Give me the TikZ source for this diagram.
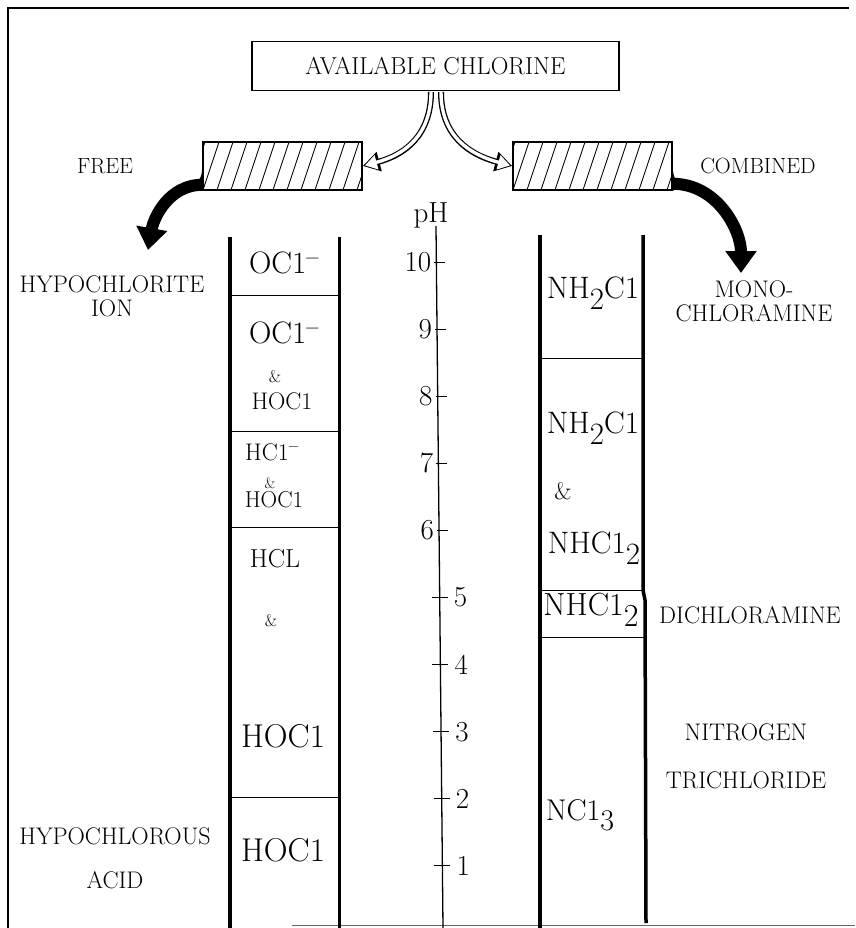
\documentclass[tikz,border=0pt]{standalone}
\usepackage{fontspec}
\usepackage{tikz}
\usetikzlibrary{arrows.meta,positioning}
\newcommand{\lowdig}[1]{\raisebox{-0.34em}{#1}}
\newcommand{\negsign}{\textsuperscript{\textbf{--}}}
\tikzset{
  chbox/.style={draw, line width=1.4pt, minimum width=367pt, minimum height=49pt,
    inner sep=0pt, font=\fontsize{24.5}{28}\selectfont},
  hatchbox/.style={draw, line width=1.6pt, minimum width=159pt, minimum height=48pt, inner sep=0pt,
    path picture={\foreach \k in {-2,...,11}
      \draw[line width=0.9pt] ([xshift=\k*14pt]path picture bounding box.south west) -- ++(16pt,48pt);}},
  sidelbl/.style={align=center, inner sep=0pt, font=\fontsize{24}{25}\selectfont},
  bigform/.style={inner sep=0pt, font=\fontsize{31}{33}\selectfont},
  midform/.style={inner sep=0pt, font=\fontsize{24}{26}\selectfont},
  rform/.style={inner sep=0pt, font=\fontsize{31}{33}\selectfont},
  ampsign/.style={inner sep=0pt, font=\fontsize{17}{20}\selectfont},
  phnum/.style={inner sep=0pt, font=\fontsize{29}{31}\selectfont},
  tubeout/.style={line width=6pt, -{Triangle[length=17pt,width=19pt]}},
  tubein/.style={line width=3.4pt, white, shorten >=2.2pt, -{Triangle[length=12pt,width=14pt]}},
  fatarrow/.style={line width=12pt, -{Triangle[length=22pt,width=30pt]}},
  colwall/.style={line width=3.5pt},
  rowline/.style={line width=0.9pt}
}

\begin{document}
\begin{tikzpicture}[x=1pt,y=-1pt]
  \useasboundingbox (0,0) rectangle (855,928);
  % frame
  \draw[line width=1.5pt] (8,928) -- (8,8) -- (849,8);
  \draw[line width=0.8pt, black!60] (292,925) -- (855,925);

  % top part
  \node[chbox] (avail) at (435.5,66) {\raisebox{-5pt}{AVAILABLE CHLORINE}};
  \node[hatchbox] (free) at (282.5,166) {};
  \node[hatchbox] (comb) at (592.5,166) {};
  \node[sidelbl, font=\fontsize{22}{24}\selectfont] (freelbl) at (105,166) {FREE};
  \node[sidelbl, font=\fontsize{22}{24}\selectfont] (comblbl) at (758,166) {COMBINED};

  \draw[tubeout] ([shift={(-4.5pt,-0.8pt)}]avail.south) to[out=270,in=15,looseness=1.1] (free.east);
  \draw[tubeout] ([shift={(5.5pt,-0.8pt)}]avail.south) to[out=270,in=165,looseness=1.1] (comb.west);
  \draw[tubein] ([shift={(-4.5pt,-0.8pt)}]avail.south) to[out=270,in=15,looseness=1.1] (free.east);
  \draw[tubein] ([shift={(5.5pt,-0.8pt)}]avail.south) to[out=270,in=165,looseness=1.1] (comb.west);

  \coordinate (freetip) at (148,250);
  \coordinate (combtip) at (741,273);
  \fill ([yshift=25pt]free.south west) .. controls ([yshift=12pt]free.south west)
    and ([shift={(-3pt,9pt)}]free.south west) .. ([shift={(-12pt,7pt)}]free.south west)
    -- (free.south west) -- cycle;
  \fill ([yshift=25pt]comb.south east) .. controls ([yshift=12pt]comb.south east)
    and ([shift={(3pt,9pt)}]comb.south east) .. ([shift={(12pt,7pt)}]comb.south east)
    -- (comb.south east) -- cycle;
  \draw[fatarrow] ([yshift=6pt]free.south west) to[out=180,in=80] (freetip);
  \draw[fatarrow] ([yshift=7pt]comb.south east) to[out=0,in=90] (combtip);

  % left column
  \draw[colwall] (230,237) -- (230,928);
  \draw[colwall, line width=3pt] (339,237) -- (339,928);
  \foreach \ry in {295,431,527,797}
    \draw[rowline] (230,\ry) -- (339,\ry);
  \node[bigform] (oc1) at (284,263) {OC1\negsign};
  \node[bigform] (oc2) at (284,333) {OC1\negsign};
  \node[ampsign] (am1) at (275,377) {\&};
  \node[midform] (ho1) at (282,401) {HOC1};
  \node[midform] (hc1) at (272,452) {HC1\negsign};
  \node[ampsign, font=\fontsize{15}{18}\selectfont] (am2) at (270,483) {\&};
  \node[midform, font=\fontsize{23}{25}\selectfont] (ho2) at (274,500) {HOC1};
  \node[midform, font=\fontsize{26}{28}\selectfont] (hcl) at (275,559) {HCL};
  \node[ampsign] (am3) at (271,621) {\&};
  \node[bigform, font=\fontsize{33}{35}\selectfont] (ho3) at (283,736) {HOC1};
  \node[bigform, font=\fontsize{33}{35}\selectfont] (ho4) at (283,850) {HOC1};

  % pH scale
  \draw[line width=1.3pt] (436,226) -- (443,928);
  \node[phnum, anchor=base] (ph) at (431,222) {pH};
  \foreach \v in {10,9,8,7,6} {
    \pgfmathsetmacro\ty{262+(10-\v)*67.1}
    \pgfmathsetmacro\tx{436+7*(\ty-224)/704}
    \draw[line width=1pt] (\tx-2,\ty) -- (\tx+9,\ty);
    \node[phnum, anchor=east] (t\v) at (\tx-5,\ty) {\v};
  }
  \foreach \v in {5,4,3,2,1} {
    \pgfmathsetmacro\ty{262+(10-\v)*67.1}
    \pgfmathsetmacro\tx{436+7*(\ty-224)/704}
    \draw[line width=1pt] (\tx-8,\ty) -- (\tx+8,\ty);
    \node[phnum, anchor=west] (t\v) at (\tx+14,\ty) {\v};
  }

  % right column
  \draw[colwall, line width=4.5pt] (540,235) -- (540,928);
  \draw[colwall] (643,235) -- (643,590) -- (645,600) -- (646,923);
  \foreach \ry in {358,590,637}
    \draw[rowline] (540,\ry) -- (644,\ry);
  \node[rform] (nh1) at (593,293) {NH\lowdig{2}C1};
  \node[rform] (nh2) at (593,428) {NH\lowdig{2}C1};
  \node[rform, font=\fontsize{24}{26}\selectfont] (am4) at (563,491) {\&};
  \node[rform] (nc1) at (594,548) {NHC1\lowdig{2}};
  \node[rform, font=\fontsize{32}{34}\selectfont] (nc2) at (591,610) {NHC1\lowdig{2}};
  \node[rform, font=\fontsize{30}{32}\selectfont] (nc3) at (580,815) {NC1\lowdig{3}};

  % side labels
  \node[sidelbl, font=\fontsize{24}{24}\selectfont] (hyion) at (112,296) {HYPOCHLORITE\\ION};
  \node[sidelbl, font=\fontsize{24}{44}\selectfont] (hyacid) at (115,858) {HYPOCHLOROUS\\ACID};
  \node[sidelbl, font=\fontsize{24}{24}\selectfont] (mono) at (754,301) {MONO-\\CHLORAMINE};
  \node[sidelbl, font=\fontsize{24}{26}\selectfont] (dich) at (750,615) {DICHLORAMINE};
  \node[sidelbl, font=\fontsize{24}{48}\selectfont] (nitro) at (746,756) {NITROGEN\\TRICHLORIDE};
\end{tikzpicture}
\end{document}
